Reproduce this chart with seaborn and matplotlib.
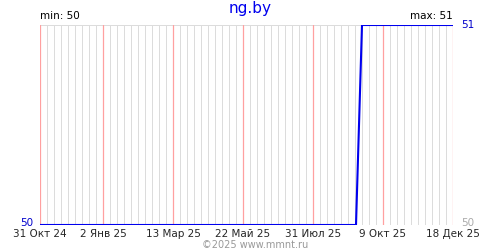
import matplotlib
matplotlib.use("Agg")
import matplotlib.pyplot as plt
import seaborn as sns
import pandas as pd

dates = ["2024-10-31", "2025-09-12", "2025-09-18", "2025-12-18"]
values = [50, 50, 51, 51]
tick_dates = ["2024-10-31", "2025-01-02", "2025-03-13", "2025-05-22",
              "2025-07-31", "2025-10-09", "2025-12-18"]
tick_labels = ["31 Окт 24", "2 Янв 25", "13 Мар 25", "22 Май 25",
               "31 Июл 25", "9 Окт 25", "18 Дек 25"]
title = "ng.by"
min_label = "min: 50"
max_label = "max: 51"
copyright_text = "©2025 www.mmnt.ru"

sns.set_style("white")
plt.rcParams['font.family'] = ['DejaVu Sans']

df = pd.DataFrame({"date": pd.to_datetime(dates), "value": values})

fig = plt.figure(figsize=(5, 2.5), dpi=100)
ax = fig.add_axes([0.08, 0.1, 0.826, 0.8])

start = pd.Timestamp(tick_dates[0])
end = pd.Timestamp(tick_dates[-1])
major = pd.to_datetime(tick_dates)

# weekly grey grid
for d in pd.date_range(start, end, freq="7D"):
    if d not in set(major):
        ax.axvline(d, color="#dcdcdc", lw=0.72, zorder=0, snap=True)
# red major lines
for d in major:
    ax.axvline(d, color="#ffa0a0", lw=0.9, zorder=1, snap=True)
ax.axhline(51, color="#dcdcdc", lw=0.72, zorder=0, snap=True)

sns.lineplot(data=df, x="date", y="value", ax=ax, color="#0000ee", lw=1.5, zorder=3)

ax.set_xlim(start, end)
ax.set_ylim(50, 51)
for s in ax.spines.values():
    s.set_visible(False)
ax.set_xlabel("")
ax.set_ylabel("")
ax.set_xticks(major)
ax.set_xticklabels(tick_labels, fontsize=7.5)
ax.tick_params(axis="x", length=0, pad=3)
ax.set_yticks([])

ytr = ax.get_yaxis_transform()
ax.text(-0.015, 50.01, "50", transform=ytr, ha="right", va="center", color="#0000cc", fontsize=7.5)
ax.text(1.02, 51, "51", transform=ytr, ha="left", va="center", color="#0000cc", fontsize=7.5)
ax.text(1.02, 50.01, "50", transform=ytr, ha="left", va="center", color="#aaaaaa", fontsize=7.5)

ax.text(0.0, 1.02, min_label, transform=ax.transAxes, ha="left", va="bottom", fontsize=7.5, color="black")
ax.text(1.0, 1.02, max_label, transform=ax.transAxes, ha="right", va="bottom", fontsize=7.5, color="black")

fig.text(0.5, 0.995, title, ha="center", va="top", color="#0000ee", fontsize=11)
fig.text(0.51, 0.0, copyright_text, ha="center", va="bottom", color="#999999", fontsize=7)

fig.savefig("out.png", dpi=100, facecolor="white")
